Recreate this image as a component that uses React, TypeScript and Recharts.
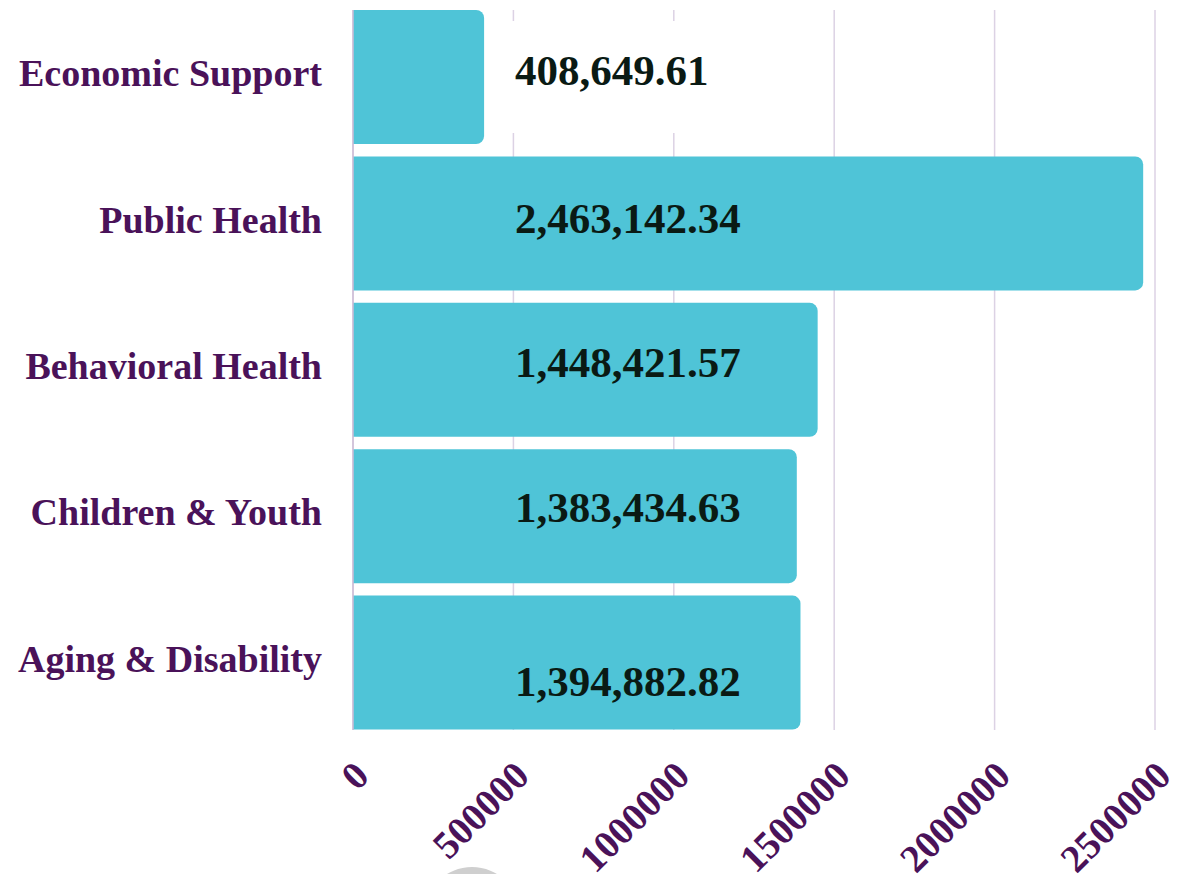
import React from "react";
import { BarChart, Bar, XAxis, YAxis, CartesianGrid, LabelList } from "recharts";

const categories = [
  "Economic Support",
  "Public Health",
  "Behavioral Health",
  "Children & Youth",
  "Aging & Disability",
];
const amounts = [408649.61, 2463142.34, 1448421.57, 1383434.63, 1394882.82];
const xTicks = [0, 500000, 1000000, 1500000, 2000000, 2500000];

const data = categories.map((name, i) => ({ name, value: amounts[i] }));

const FONT = "'Liberation Serif', 'Times New Roman', serif";
const PURPLE = "#4a1259";
const BAR = "#4fc4d7";
const GRID = "#dcd2e4";
const LABEL_NUDGE = [-7, -5, -8, -9, 18];

const fmt = (v: number) =>
  v.toLocaleString("en-US", { minimumFractionDigits: 2, maximumFractionDigits: 2 });

const YTick = (props: any) => {
  const { x, y, payload } = props;
  return (
    <text
      x={x}
      y={y + 9}
      textAnchor="end"
      fill={PURPLE}
      fontFamily={FONT}
      fontWeight="bold"
      fontSize={38}
    >
      {payload.value}
    </text>
  );
};

const XTick = (props: any) => {
  const { x, y, payload } = props;
  const ax = x + 18;
  const ay = y + 40;
  return (
    <text
      x={ax}
      y={ay}
      transform={`rotate(-45, ${ax}, ${ay})`}
      textAnchor="end"
      fill={PURPLE}
      fontFamily={FONT}
      fontWeight="bold"
      fontSize={39}
    >
      {payload.value}
    </text>
  );
};

const ValueLabel = (props: any) => {
  const { x, y, width, height, value, index } = props;
  const tx = x + 162;
  const cy = y + height / 2 + (LABEL_NUDGE[index] || 0);
  const outside = width < 200;
  return (
    <g>
      {outside && (
        <rect x={x + width + 4} y={y + 11} width={240} height={height - 22} fill="#ffffff" />
      )}
      <text
        x={tx}
        y={cy + 15}
        textAnchor="start"
        fill="#0a1a14"
        fontFamily={FONT}
        fontWeight="bold"
        fontSize={43}
      >
        {fmt(value)}
      </text>
    </g>
  );
};

export default function App() {
  return (
    <div style={{ position: "relative", width: 1172, height: 866, overflow: "hidden" }}>
      <BarChart
        width={1172}
        height={866}
        data={data}
        layout="vertical"
        margin={{ top: 2, right: 25, bottom: 0, left: 0 }}
        barCategoryGap={6}
      >
        <CartesianGrid horizontal={false} vertical={true} stroke={GRID} strokeWidth={1.5} />
        <XAxis
          type="number"
          dataKey="value"
          domain={[0, 2500000]}
          ticks={xTicks}
          interval={0}
          axisLine={false}
          tickLine={false}
          height={144}
          tick={<XTick />}
        />
        <YAxis
          type="category"
          dataKey="name"
          width={345}
          axisLine={{ stroke: "#cdbcd6", strokeWidth: 1.5 }}
          tickLine={false}
          tickMargin={25}
          padding={{ top: -6, bottom: -6 }}
          tick={<YTick />}
          interval={0}
        />
        <Bar dataKey="value" fill={BAR} radius={[0, 8, 8, 0]} isAnimationActive={false}>
          <LabelList dataKey="value" content={<ValueLabel />} />
        </Bar>
      </BarChart>
      <div
        style={{
          position: "absolute",
          left: 416,
          top: 859,
          width: 96,
          height: 96,
          borderRadius: "50%",
          background: "#cfcfcf",
        }}
      />
    </div>
  );
}
